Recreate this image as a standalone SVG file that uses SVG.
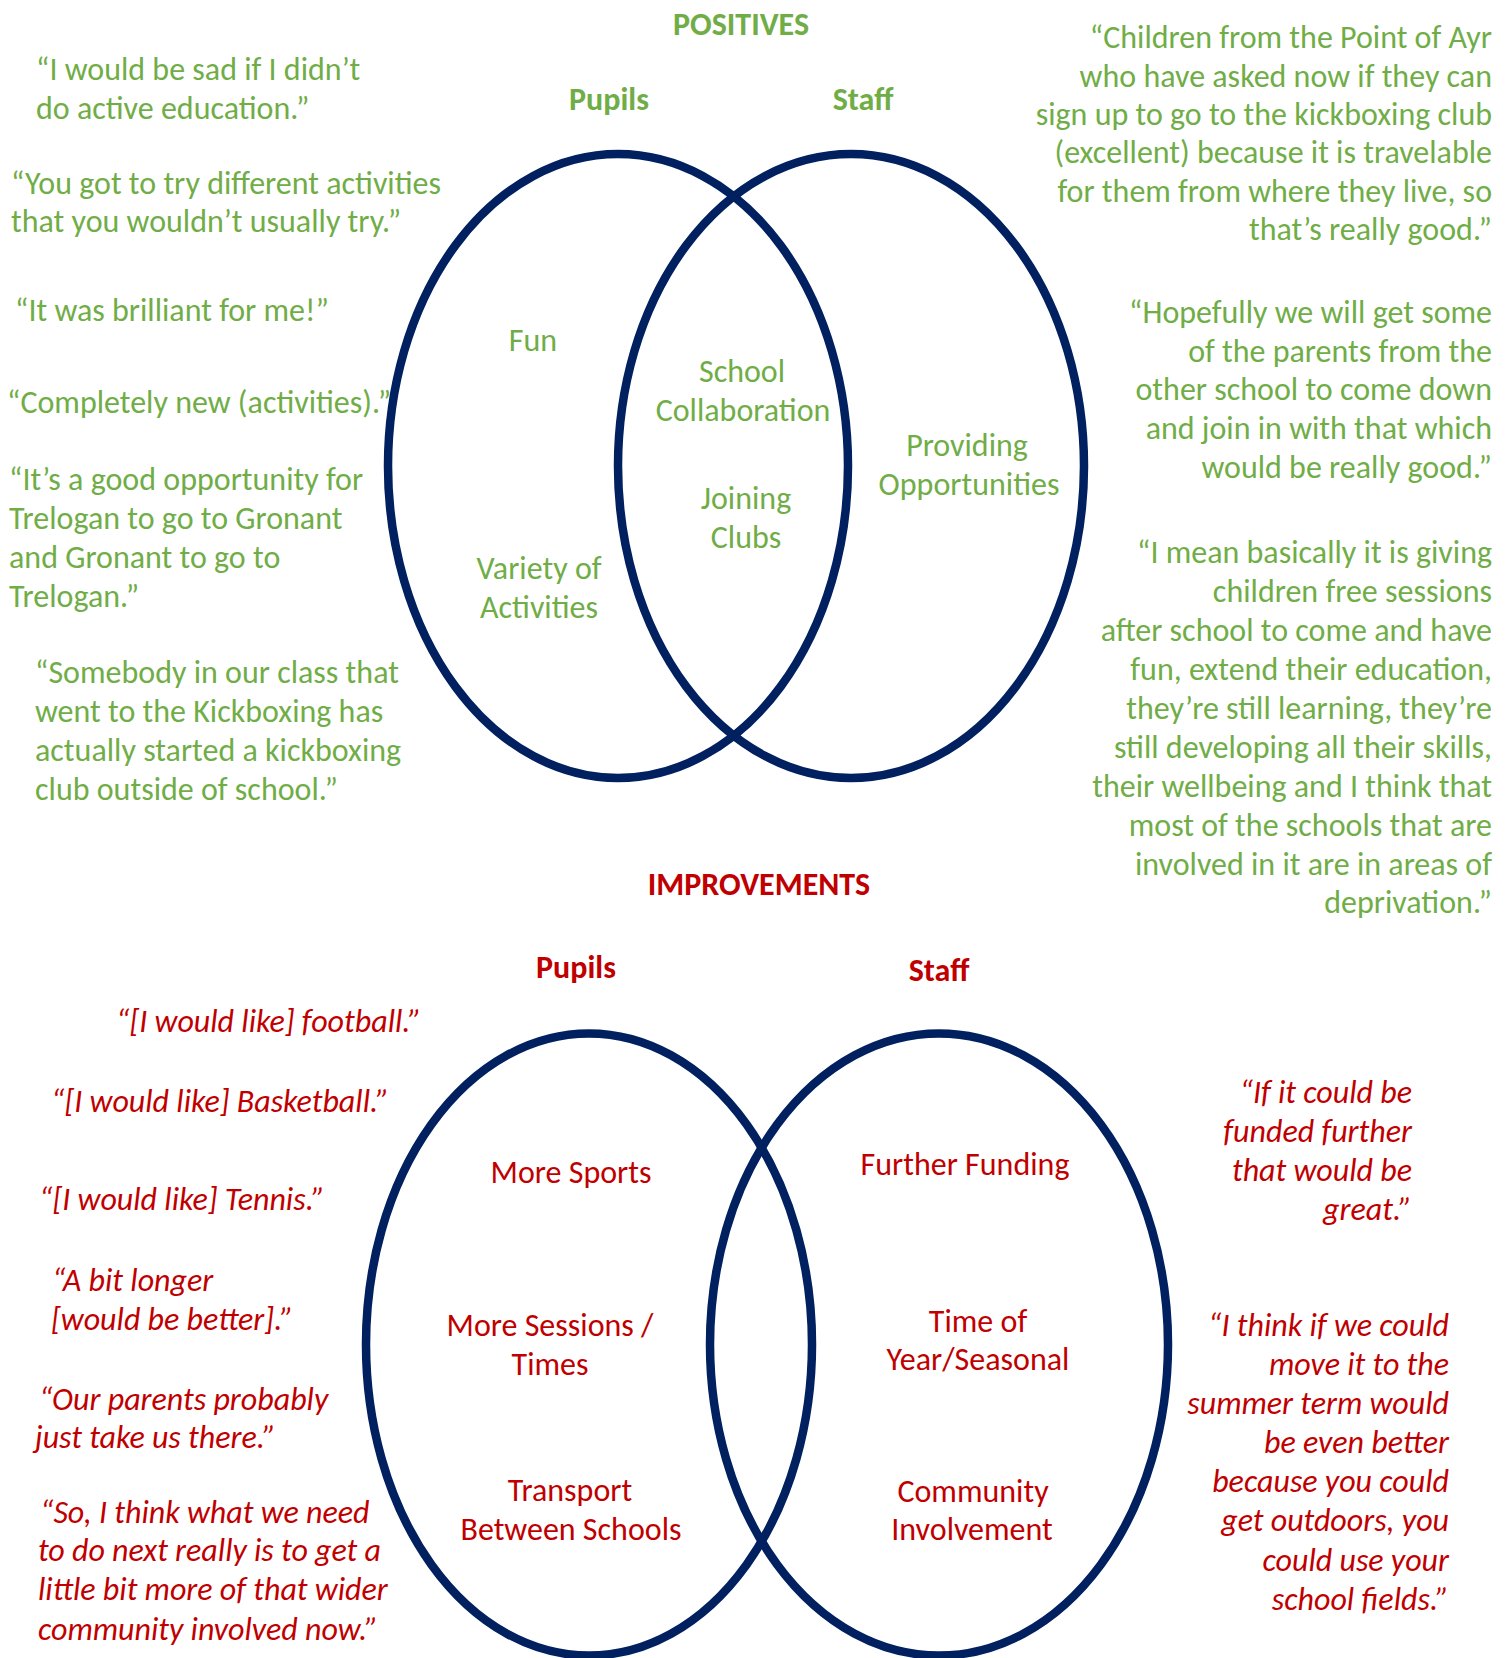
<svg xmlns="http://www.w3.org/2000/svg" width="1510" height="1658" viewBox="0 0 1510 1658">
<style>
text{font-family:Carlito,Calibri,Lato,"Liberation Sans Narrow",sans-serif;font-size:32px}
.g{fill:#70AD47}
.r{fill:#C00000}
.b{font-weight:bold}
.i{font-style:italic}
.m{text-anchor:middle}
.e{text-anchor:end}
.ring{fill:none;stroke:#002060;stroke-width:8.5}
</style>
<rect width="1510" height="1658" fill="#ffffff"/>
<g id="positives">
  <text id="positives-title" class="g b m" x="741" y="34.5">POSITIVES</text>
  <g id="pos-pupils">
    <ellipse class="ring" cx="618" cy="466" rx="230" ry="312"/>
    <text class="g b m" x="609" y="109.5">Pupils</text>
    <text class="g m" x="533" y="350.5">Fun</text>
    <text class="g m" x="539" y="578.5">Variety of</text>
    <text class="g m" x="539" y="617.5">Activities</text>
  </g>
  <g id="pos-staff">
    <ellipse class="ring" cx="851" cy="466" rx="233" ry="312"/>
    <text class="g b m" x="863" y="109.5">Staff</text>
    <text class="g m" x="967" y="455.5">Providing</text>
    <text class="g m" x="969" y="494.5">Opportunities</text>
  </g>
  <g id="pos-overlap">
    <text class="g m" x="742" y="381.5">School</text>
    <text class="g m" x="743" y="420.5">Collaboration</text>
    <text class="g m" x="746" y="508.5">Joining</text>
    <text class="g m" x="746" y="547.5">Clubs</text>
  </g>
  <g id="pos-pupil-quotes">
    <text class="g" x="36" y="79.5">“I would be sad if I didn’t</text>
    <text class="g" x="36" y="118.5">do active education.”</text>
    <text class="g" x="11" y="193.5">“You got to try different activities</text>
    <text class="g" x="11" y="231.5">that you wouldn’t usually try.”</text>
    <text class="g" x="15" y="320.5">“It was brilliant for me!”</text>
    <text class="g" x="7" y="412.5">“Completely new (activities).”</text>
    <text class="g" x="9" y="489.5">“It’s a good opportunity for</text>
    <text class="g" x="9" y="528.5">Trelogan to go to Gronant</text>
    <text class="g" x="9" y="567.5">and Gronant to go to</text>
    <text class="g" x="9" y="606.5">Trelogan.”</text>
    <text class="g" x="35" y="682.5">“Somebody in our class that</text>
    <text class="g" x="35" y="721.5">went to the Kickboxing has</text>
    <text class="g" x="35" y="760.5">actually started a kickboxing</text>
    <text class="g" x="35" y="799.5">club outside of school.”</text>
  </g>
  <g id="pos-staff-quotes">
    <text class="g e" x="1492" y="47.5">“Children from the Point of Ayr</text>
    <text class="g e" x="1492" y="86.5">who have asked now if they can</text>
    <text class="g e" x="1492" y="124.5">sign up to go to the kickboxing club</text>
    <text class="g e" x="1492" y="162.5">(excellent) because it is travelable</text>
    <text class="g e" x="1492" y="201.5">for them from where they live, so</text>
    <text class="g e" x="1492" y="239.5">that’s really good.”</text>
    <text class="g e" x="1492" y="322.5">“Hopefully we will get some</text>
    <text class="g e" x="1492" y="361.5">of the parents from the</text>
    <text class="g e" x="1492" y="399.5">other school to come down</text>
    <text class="g e" x="1492" y="438.5">and join in with that which</text>
    <text class="g e" x="1492" y="477.5">would be really good.”</text>
    <text class="g e" x="1492" y="562.5">“I mean basically it is giving</text>
    <text class="g e" x="1492" y="601.5">children free sessions</text>
    <text class="g e" x="1492" y="640.5">after school to come and have</text>
    <text class="g e" x="1492" y="679.5">fun, extend their education,</text>
    <text class="g e" x="1492" y="718.5">they’re still learning, they’re</text>
    <text class="g e" x="1492" y="757.5">still developing all their skills,</text>
    <text class="g e" x="1492" y="796.5">their wellbeing and I think that</text>
    <text class="g e" x="1492" y="835.5">most of the schools that are</text>
    <text class="g e" x="1492" y="874.5">involved in it are in areas of</text>
    <text class="g e" x="1492" y="912.5">deprivation.”</text>
  </g>
</g>
<g id="improvements">
  <text id="improvements-title" class="r b m" x="759" y="894.5">IMPROVEMENTS</text>
  <g id="imp-pupils">
    <ellipse class="ring" cx="589" cy="1344.5" rx="223" ry="311"/>
    <text class="r b m" x="576" y="977.5">Pupils</text>
    <text class="r m" x="571" y="1182.5">More Sports</text>
    <text class="r m" x="550" y="1335.5">More Sessions /</text>
    <text class="r m" x="550" y="1374.5">Times</text>
    <text class="r m" x="570" y="1500.5">Transport</text>
    <text class="r m" x="571" y="1539.5">Between Schools</text>
  </g>
  <g id="imp-staff">
    <ellipse class="ring" cx="939" cy="1344.5" rx="229" ry="311"/>
    <text class="r b m" x="939" y="980.5">Staff</text>
    <text class="r m" x="965" y="1174.5">Further Funding</text>
    <text class="r m" x="978" y="1331.5">Time of</text>
    <text class="r m" x="978" y="1369.5">Year/Seasonal</text>
    <text class="r m" x="973" y="1501.5">Community</text>
    <text class="r m" x="972" y="1539.5">Involvement</text>
  </g>
  <g id="imp-pupil-quotes">
    <text class="r i" x="116" y="1031.5">“[I would like] football.”</text>
    <text class="r i" x="51" y="1111.5">“[I would like] Basketball.”</text>
    <text class="r i" x="39" y="1209.5">“[I would like] Tennis.”</text>
    <text class="r i" x="52" y="1290.5">“A bit longer</text>
    <text class="r i" x="51" y="1329.5">[would be better].”</text>
    <text class="r i" x="39" y="1409.5">“Our parents probably</text>
    <text class="r i" x="35" y="1447.5">just take us there.”</text>
    <text class="r i" x="40" y="1522.5">“So, I think what we need</text>
    <text class="r i" x="38" y="1560.5">to do next really is to get a</text>
    <text class="r i" x="38" y="1599.5">little bit more of that wider</text>
    <text class="r i" x="38" y="1639.5">community involved now.”</text>
  </g>
  <g id="imp-staff-quotes">
    <text class="r i e" x="1412" y="1102.5">“If it could be</text>
    <text class="r i e" x="1412" y="1141.5">funded further</text>
    <text class="r i e" x="1412" y="1180.5">that would be</text>
    <text class="r i e" x="1412" y="1219.5">great.”</text>
    <text class="r i e" x="1449" y="1335.5">“I think if we could</text>
    <text class="r i e" x="1449" y="1374.5">move it to the</text>
    <text class="r i e" x="1449" y="1413.5">summer term would</text>
    <text class="r i e" x="1449" y="1452.5">be even better</text>
    <text class="r i e" x="1449" y="1491.5">because you could</text>
    <text class="r i e" x="1449" y="1530.5">get outdoors, you</text>
    <text class="r i e" x="1449" y="1570.5">could use your</text>
    <text class="r i e" x="1449" y="1609.5">school fields.”</text>
  </g>
</g>
<g id="connectors"/>
</svg>
